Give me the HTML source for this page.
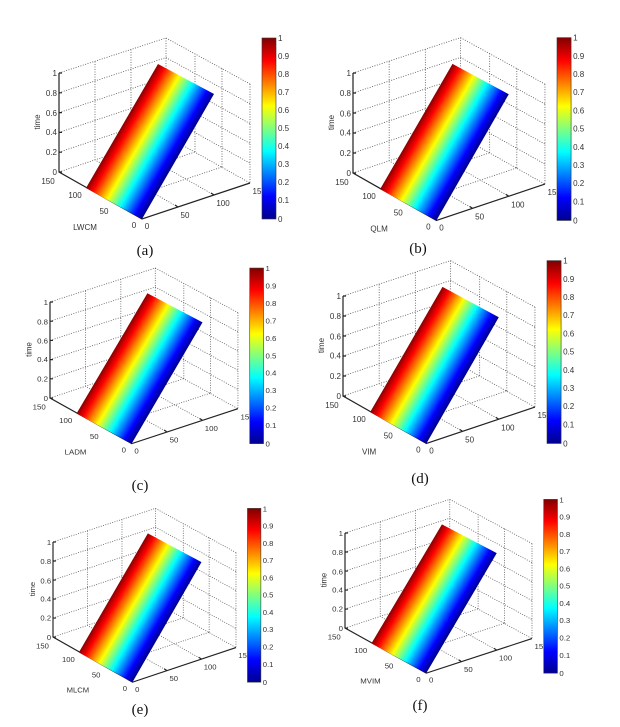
<!DOCTYPE html>
<html><head><meta charset="utf-8"><style>
html,body{margin:0;padding:0;background:#fff;}
svg{display:block;}
.g{stroke:#555;stroke-width:0.8;stroke-dasharray:1 1.5;fill:none;}
.a{stroke:#222;stroke-width:1.2;fill:none;}
.t{font-family:"Liberation Sans",sans-serif;font-size:8px;fill:#333;}
.c{font-family:"Liberation Serif",serif;font-size:15px;fill:#111;text-anchor:middle;}
</style></head><body>
<svg width="620" height="727" viewBox="0 0 620 727" xmlns="http://www.w3.org/2000/svg">
<defs>
<linearGradient id="sg" gradientUnits="userSpaceOnUse" x1="158" y1="64" x2="212.9" y2="95.9">
<stop offset="0" stop-color="#8a0000"/><stop offset="0.12" stop-color="#ff0000"/><stop offset="0.38" stop-color="#ffff00"/><stop offset="0.62" stop-color="#00ffff"/><stop offset="0.88" stop-color="#0000ff"/><stop offset="1" stop-color="#00008f"/>
</linearGradient>
<linearGradient id="cg" x1="0" y1="0" x2="0" y2="1">
<stop offset="0" stop-color="#800000"/><stop offset="0.125" stop-color="#ff0000"/><stop offset="0.375" stop-color="#ffff00"/><stop offset="0.625" stop-color="#00ffff"/><stop offset="0.875" stop-color="#0000ff"/><stop offset="1" stop-color="#00008f"/>
</linearGradient>
</defs>

<g transform="matrix(1,0,0,1,0,0)">
<path class="g" d="M59,73L166,38L250,84M166,38L166,136M250,84L250,183M59,172L166,136L250,183M95,160L95,61M131,148L131,49M195,152L195,53M222,167L222,68M59,152.2L166,116.4L250,163.2M59,132.4L166,96.8L250,143.4M59,112.6L166,77.2L250,123.6M59,92.8L166,57.6L250,103.8M114,203L222,167M87,188L195,152M178,207L95,160M214,195L131,148"/>
<path class="a" d="M59,73L59,172L142,219L250,183M59,73h3M59,92.8h3M59,112.6h3M59,132.4h3M59,152.2h3M59,172h3M114,203l3,-1M87,188l3,-1M178,207l-3,-2M214,195l-3,-2"/>
<path d="M158,64L214,94L142,219L86,188Z" fill="url(#sg)"/>
<g class="t" text-anchor="end"><text x="57" y="76">1</text><text x="57" y="96">0.8</text><text x="57" y="116">0.6</text><text x="57" y="135">0.4</text><text x="57" y="155">0.2</text><text x="57" y="175">0</text></g>
<text class="t" transform="translate(40,122) rotate(-90)" text-anchor="middle">time</text>
<g class="t" text-anchor="middle"><text x="48" y="184">150</text><text x="75" y="198">100</text><text x="104" y="214">50</text><text x="134" y="228">0</text><text x="147" y="229">0</text><text x="185" y="218">50</text><text x="223" y="206">100</text><text x="257" y="194">15</text><text x="85" y="230">LWCM</text></g>
<rect x="262" y="38" width="14" height="181" fill="url(#cg)" stroke="#333" stroke-width="0.6"/>
<g class="t"><text x="278" y="41">1</text><text x="278" y="59">0.9</text><text x="278" y="77">0.8</text><text x="278" y="95">0.7</text><text x="278" y="113">0.6</text><text x="278" y="131">0.5</text><text x="278" y="149">0.4</text><text x="278" y="167">0.3</text><text x="278" y="185">0.2</text><text x="278" y="203">0.1</text><text x="278" y="222">0</text></g>
</g>

<g transform="matrix(1.005,0,0,1.01,293.7,-0.73)">
<path class="g" d="M59,73L166,38L250,84M166,38L166,136M250,84L250,183M59,172L166,136L250,183M95,160L95,61M131,148L131,49M195,152L195,53M222,167L222,68M59,152.2L166,116.4L250,163.2M59,132.4L166,96.8L250,143.4M59,112.6L166,77.2L250,123.6M59,92.8L166,57.6L250,103.8M114,203L222,167M87,188L195,152M178,207L95,160M214,195L131,148"/>
<path class="a" d="M59,73L59,172L142,219L250,183M59,73h3M59,92.8h3M59,112.6h3M59,132.4h3M59,152.2h3M59,172h3M114,203l3,-1M87,188l3,-1M178,207l-3,-2M214,195l-3,-2"/>
<path d="M158,64L214,94L142,219L86,188Z" fill="url(#sg)"/>
<g class="t" text-anchor="end"><text x="57" y="76">1</text><text x="57" y="96">0.8</text><text x="57" y="116">0.6</text><text x="57" y="135">0.4</text><text x="57" y="155">0.2</text><text x="57" y="175">0</text></g>
<text class="t" transform="translate(40,122) rotate(-90)" text-anchor="middle">time</text>
<g class="t" text-anchor="middle"><text x="48" y="184">150</text><text x="75" y="198">100</text><text x="104" y="214">50</text><text x="134" y="228">0</text><text x="147" y="229">0</text><text x="185" y="218">50</text><text x="223" y="206">100</text><text x="257" y="194">15</text><text x="85" y="230">QLM</text></g>
<rect x="262" y="38" width="14" height="181" fill="url(#cg)" stroke="#333" stroke-width="0.6"/>
<g class="t"><text x="278" y="41">1</text><text x="278" y="59">0.9</text><text x="278" y="77">0.8</text><text x="278" y="95">0.7</text><text x="278" y="113">0.6</text><text x="278" y="131">0.5</text><text x="278" y="149">0.4</text><text x="278" y="167">0.3</text><text x="278" y="185">0.2</text><text x="278" y="203">0.1</text><text x="278" y="222">0</text></g>
</g>

<g transform="matrix(0.984,0,0,0.97,-8.06,231.19)">
<path class="g" d="M59,73L166,38L250,84M166,38L166,136M250,84L250,183M59,172L166,136L250,183M95,160L95,61M131,148L131,49M195,152L195,53M222,167L222,68M59,152.2L166,116.4L250,163.2M59,132.4L166,96.8L250,143.4M59,112.6L166,77.2L250,123.6M59,92.8L166,57.6L250,103.8M114,203L222,167M87,188L195,152M178,207L95,160M214,195L131,148"/>
<path class="a" d="M59,73L59,172L142,219L250,183M59,73h3M59,92.8h3M59,112.6h3M59,132.4h3M59,152.2h3M59,172h3M114,203l3,-1M87,188l3,-1M178,207l-3,-2M214,195l-3,-2"/>
<path d="M158,64L214,94L142,219L86,188Z" fill="url(#sg)"/>
<g class="t" text-anchor="end"><text x="57" y="76">1</text><text x="57" y="96">0.8</text><text x="57" y="116">0.6</text><text x="57" y="135">0.4</text><text x="57" y="155">0.2</text><text x="57" y="175">0</text></g>
<text class="t" transform="translate(40,122) rotate(-90)" text-anchor="middle">time</text>
<g class="t" text-anchor="middle"><text x="48" y="184">150</text><text x="75" y="198">100</text><text x="104" y="214">50</text><text x="134" y="228">0</text><text x="147" y="229">0</text><text x="185" y="218">50</text><text x="223" y="206">100</text><text x="257" y="194">15</text><text x="85" y="230">LADM</text></g>
<rect x="262" y="38" width="14" height="181" fill="url(#cg)" stroke="#333" stroke-width="0.6"/>
<g class="t"><text x="278" y="41">1</text><text x="278" y="59">0.9</text><text x="278" y="77">0.8</text><text x="278" y="95">0.7</text><text x="278" y="113">0.6</text><text x="278" y="131">0.5</text><text x="278" y="149">0.4</text><text x="278" y="167">0.3</text><text x="278" y="185">0.2</text><text x="278" y="203">0.1</text><text x="278" y="222">0</text></g>
</g>

<g transform="matrix(1.005,0,0,1.01,283.7,222.27)">
<path class="g" d="M59,73L166,38L250,84M166,38L166,136M250,84L250,183M59,172L166,136L250,183M95,160L95,61M131,148L131,49M195,152L195,53M222,167L222,68M59,152.2L166,116.4L250,163.2M59,132.4L166,96.8L250,143.4M59,112.6L166,77.2L250,123.6M59,92.8L166,57.6L250,103.8M114,203L222,167M87,188L195,152M178,207L95,160M214,195L131,148"/>
<path class="a" d="M59,73L59,172L142,219L250,183M59,73h3M59,92.8h3M59,112.6h3M59,132.4h3M59,152.2h3M59,172h3M114,203l3,-1M87,188l3,-1M178,207l-3,-2M214,195l-3,-2"/>
<path d="M158,64L214,94L142,219L86,188Z" fill="url(#sg)"/>
<g class="t" text-anchor="end"><text x="57" y="76">1</text><text x="57" y="96">0.8</text><text x="57" y="116">0.6</text><text x="57" y="135">0.4</text><text x="57" y="155">0.2</text><text x="57" y="175">0</text></g>
<text class="t" transform="translate(40,122) rotate(-90)" text-anchor="middle">time</text>
<g class="t" text-anchor="middle"><text x="48" y="184">150</text><text x="75" y="198">100</text><text x="104" y="214">50</text><text x="134" y="228">0</text><text x="147" y="229">0</text><text x="185" y="218">50</text><text x="223" y="206">100</text><text x="257" y="194">15</text><text x="85" y="230">VIM</text></g>
<rect x="262" y="38" width="14" height="181" fill="url(#cg)" stroke="#333" stroke-width="0.6"/>
<g class="t"><text x="278" y="41">1</text><text x="278" y="59">0.9</text><text x="278" y="77">0.8</text><text x="278" y="95">0.7</text><text x="278" y="113">0.6</text><text x="278" y="131">0.5</text><text x="278" y="149">0.4</text><text x="278" y="167">0.3</text><text x="278" y="185">0.2</text><text x="278" y="203">0.1</text><text x="278" y="222">0</text></g>
</g>

<g transform="matrix(0.958,0,0,0.96,-3.52,471.92)">
<path class="g" d="M59,73L166,38L250,84M166,38L166,136M250,84L250,183M59,172L166,136L250,183M95,160L95,61M131,148L131,49M195,152L195,53M222,167L222,68M59,152.2L166,116.4L250,163.2M59,132.4L166,96.8L250,143.4M59,112.6L166,77.2L250,123.6M59,92.8L166,57.6L250,103.8M114,203L222,167M87,188L195,152M178,207L95,160M214,195L131,148"/>
<path class="a" d="M59,73L59,172L142,219L250,183M59,73h3M59,92.8h3M59,112.6h3M59,132.4h3M59,152.2h3M59,172h3M114,203l3,-1M87,188l3,-1M178,207l-3,-2M214,195l-3,-2"/>
<path d="M158,64L214,94L142,219L86,188Z" fill="url(#sg)"/>
<g class="t" text-anchor="end"><text x="57" y="76">1</text><text x="57" y="96">0.8</text><text x="57" y="116">0.6</text><text x="57" y="135">0.4</text><text x="57" y="155">0.2</text><text x="57" y="175">0</text></g>
<text class="t" transform="translate(40,122) rotate(-90)" text-anchor="middle">time</text>
<g class="t" text-anchor="middle"><text x="48" y="184">150</text><text x="75" y="198">100</text><text x="104" y="214">50</text><text x="134" y="228">0</text><text x="147" y="229">0</text><text x="185" y="218">50</text><text x="223" y="206">100</text><text x="257" y="194">15</text><text x="85" y="230">MLCM</text></g>
<rect x="262" y="38" width="14" height="181" fill="url(#cg)" stroke="#333" stroke-width="0.6"/>
<g class="t"><text x="278" y="41">1</text><text x="278" y="59">0.9</text><text x="278" y="77">0.8</text><text x="278" y="95">0.7</text><text x="278" y="113">0.6</text><text x="278" y="131">0.5</text><text x="278" y="149">0.4</text><text x="278" y="167">0.3</text><text x="278" y="185">0.2</text><text x="278" y="203">0.1</text><text x="278" y="222">0</text></g>
</g>

<g transform="matrix(0.979,0,0,0.96,287.24,462.92)">
<path class="g" d="M59,73L166,38L250,84M166,38L166,136M250,84L250,183M59,172L166,136L250,183M95,160L95,61M131,148L131,49M195,152L195,53M222,167L222,68M59,152.2L166,116.4L250,163.2M59,132.4L166,96.8L250,143.4M59,112.6L166,77.2L250,123.6M59,92.8L166,57.6L250,103.8M114,203L222,167M87,188L195,152M178,207L95,160M214,195L131,148"/>
<path class="a" d="M59,73L59,172L142,219L250,183M59,73h3M59,92.8h3M59,112.6h3M59,132.4h3M59,152.2h3M59,172h3M114,203l3,-1M87,188l3,-1M178,207l-3,-2M214,195l-3,-2"/>
<path d="M158,64L214,94L142,219L86,188Z" fill="url(#sg)"/>
<g class="t" text-anchor="end"><text x="57" y="76">1</text><text x="57" y="96">0.8</text><text x="57" y="116">0.6</text><text x="57" y="135">0.4</text><text x="57" y="155">0.2</text><text x="57" y="175">0</text></g>
<text class="t" transform="translate(40,122) rotate(-90)" text-anchor="middle">time</text>
<g class="t" text-anchor="middle"><text x="48" y="184">150</text><text x="75" y="198">100</text><text x="104" y="214">50</text><text x="134" y="228">0</text><text x="147" y="229">0</text><text x="185" y="218">50</text><text x="223" y="206">100</text><text x="257" y="194">15</text><text x="85" y="230">MVIM</text></g>
<rect x="262" y="38" width="14" height="181" fill="url(#cg)" stroke="#333" stroke-width="0.6"/>
<g class="t"><text x="278" y="41">1</text><text x="278" y="59">0.9</text><text x="278" y="77">0.8</text><text x="278" y="95">0.7</text><text x="278" y="113">0.6</text><text x="278" y="131">0.5</text><text x="278" y="149">0.4</text><text x="278" y="167">0.3</text><text x="278" y="185">0.2</text><text x="278" y="203">0.1</text><text x="278" y="222">0</text></g>
</g>

<text class="c" x="145" y="255">(a)</text>
<text class="c" x="418" y="253">(b)</text>
<text class="c" x="140" y="490">(c)</text>
<text class="c" x="420" y="483">(d)</text>
<text class="c" x="140" y="714">(e)</text>
<text class="c" x="420" y="710">(f)</text>
</svg>
</body></html>
